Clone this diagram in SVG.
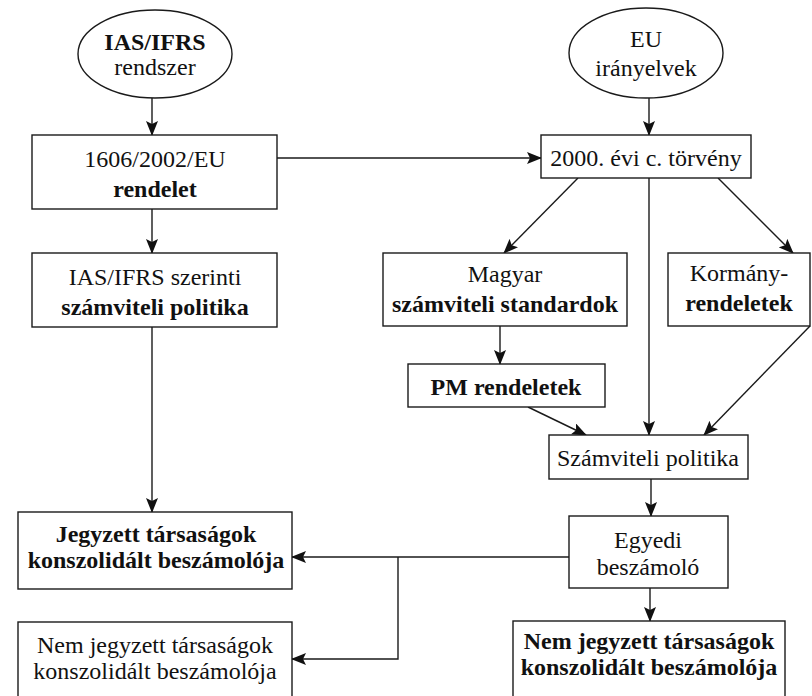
<svg xmlns="http://www.w3.org/2000/svg" width="812" height="696" viewBox="0 0 812 696" font-family="'Liberation Serif', 'DejaVu Serif', serif">
<style>
.n{fill:#fff;stroke:#1a1a1a;stroke-width:1.4}
text{font-family:'Liberation Serif','DejaVu Serif',serif;font-size:24px;fill:#111;text-anchor:middle}
.b{font-weight:bold}
.c{fill:none;stroke:#1a1a1a;stroke-width:1.4}
</style>
<defs>
<marker id="ah" markerUnits="userSpaceOnUse" markerWidth="16" markerHeight="12" refX="14" refY="6" orient="auto">
<path d="M0,0 L15,6 L0,12 L3,6 z" fill="#111"/>
</marker>
</defs>
<rect width="812" height="696" fill="#fff"/>
<g id="connectors">
<line class="c" x1="152" y1="98" x2="152" y2="135" marker-end="url(#ah)"/>
<line class="c" x1="649" y1="98" x2="649" y2="135" marker-end="url(#ah)"/>
<line class="c" x1="277" y1="158" x2="541" y2="158" marker-end="url(#ah)"/>
<line class="c" x1="152" y1="209" x2="152" y2="253" marker-end="url(#ah)"/>
<line class="c" x1="578" y1="178" x2="504" y2="253" marker-end="url(#ah)"/>
<line class="c" x1="649" y1="178" x2="649" y2="435" marker-end="url(#ah)"/>
<line class="c" x1="718" y1="178" x2="793" y2="253" marker-end="url(#ah)"/>
<line class="c" x1="152" y1="327" x2="152" y2="512" marker-end="url(#ah)"/>
<line class="c" x1="500" y1="326" x2="500" y2="364" marker-end="url(#ah)"/>
<line class="c" x1="528" y1="407" x2="586" y2="435" marker-end="url(#ah)"/>
<line class="c" x1="810" y1="326" x2="704" y2="435" marker-end="url(#ah)"/>
<line class="c" x1="651" y1="479" x2="651" y2="516" marker-end="url(#ah)"/>
<line class="c" x1="650" y1="588" x2="650" y2="621" marker-end="url(#ah)"/>
<line class="c" x1="569" y1="557" x2="292" y2="557" marker-end="url(#ah)"/>
<polyline class="c" points="398,557 398,659 292,659" marker-end="url(#ah)"/>
</g>
<g id="ias-ifrs">
<ellipse class="n" cx="155" cy="54" rx="77" ry="44"/>
<text x="155" y="50" class="b">IAS/IFRS</text>
<text x="155" y="75">rendszer</text>
</g>
<g id="eu-iranyelvek">
<ellipse class="n" cx="646" cy="53" rx="77" ry="45"/>
<text x="646" y="47">EU</text>
<text x="646" y="76">irányelvek</text>
</g>
<g id="rendelet">
<rect class="n" x="32" y="135" width="245" height="74"/>
<text x="155" y="167">1606/2002/EU</text>
<text x="155" y="197" class="b">rendelet</text>
</g>
<g id="torveny">
<rect class="n" x="541" y="135" width="210" height="43"/>
<text x="646" y="166">2000. évi c. törvény</text>
</g>
<g id="ias-politika">
<rect class="n" x="32" y="253" width="245" height="74"/>
<text x="155" y="285">IAS/IFRS szerinti</text>
<text x="155" y="315" class="b">számviteli politika</text>
</g>
<g id="magyar">
<rect class="n" x="383" y="253" width="244" height="73"/>
<text x="505" y="282">Magyar</text>
<text x="505" y="312" class="b">számviteli standardok</text>
</g>
<g id="kormany">
<rect class="n" x="668" y="253" width="142" height="73"/>
<text x="739" y="281">Kormány-</text>
<text x="739" y="311" class="b">rendeletek</text>
</g>
<g id="pm">
<rect class="n" x="408" y="364" width="197" height="43"/>
<text x="506" y="395" class="b">PM rendeletek</text>
</g>
<g id="szamviteli-politika">
<rect class="n" x="549" y="435" width="199" height="44"/>
<text x="648" y="466">Számviteli politika</text>
</g>
<g id="egyedi">
<rect class="n" x="569" y="516" width="159" height="72"/>
<text x="648" y="548">Egyedi</text>
<text x="648" y="575">beszámoló</text>
</g>
<g id="jegyzett">
<rect class="n" x="18" y="512" width="274" height="77"/>
<text x="156" y="542" class="b">Jegyzett társaságok</text>
<text x="156" y="568" class="b">konszolidált beszámolója</text>
</g>
<g id="nem-jegyzett-bal">
<rect class="n" x="18" y="622" width="274" height="80"/>
<text x="155" y="653">Nem jegyzett társaságok</text>
<text x="155" y="679">konszolidált beszámolója</text>
</g>
<g id="nem-jegyzett-jobb">
<rect class="n" x="513" y="621" width="272" height="80"/>
<text x="649" y="649" class="b">Nem jegyzett társaságok</text>
<text x="649" y="675" class="b">konszolidált beszámolója</text>
</g>
</svg>
